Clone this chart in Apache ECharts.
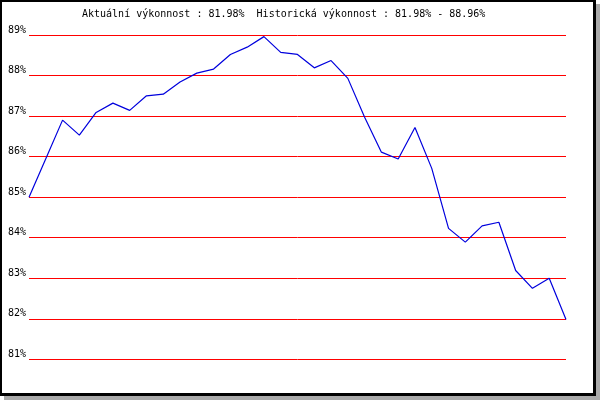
<!DOCTYPE html>
<html>
<head>
<meta charset="utf-8">
<script src="https://cdn.jsdelivr.net/npm/echarts@6/dist/echarts.min.js"></script>
<style>
  html, body { margin: 0; padding: 0; background: #ffffff; }
  #frame {
    position: absolute; left: 0; top: 0;
    width: 596px; height: 396px; box-sizing: border-box;
    border-left: 2px solid #000; border-top: 2px solid #000;
    border-right: 3px solid #000; border-bottom: 3px solid #000;
    background: #ffffff;
    box-shadow: 4px 4px 0 #a9a9a9;
  }
  #chart { position: absolute; left: 0; top: 0; width: 600px; height: 400px; }
</style>
</head>
<body>
<div id="frame"></div>
<div id="chart"></div>
<script>
const titleText = 'Aktuální výkonnost : 81.98%  Historická výkonnost : 81.98% - 88.96%';
const categories = ['1','2','3','4','5','6','7','8','9','10','11','12','13','14','15','16','17',
  '18','19','20','21','22','23','24','25','26','27','28','29','30','31','32','33'];
const performance = [85.00, 85.95, 86.90, 86.53, 87.09, 87.32, 87.14, 87.50, 87.54, 87.84,
  88.06, 88.16, 88.52, 88.70, 88.96, 88.57, 88.52, 88.19, 88.37, 87.93, 86.97, 86.11,
  85.94, 86.72, 85.71, 84.23, 83.89, 84.29, 84.38, 83.19, 82.75, 83.00, 81.98];
const yMin = 81, yMax = 89, yStep = 1;

const chart = echarts.init(document.getElementById('chart'), null, { renderer: 'canvas' });
chart.setOption({
  animation: false,
  title: {
    text: titleText,
    left: 82, top: 9, padding: 0,
    textStyle: { fontFamily: 'DejaVu Sans Mono', fontSize: 10, fontWeight: 'normal', color: '#000' }
  },
  grid: { left: 29, right: 34, top: 35, height: 324.3, containLabel: false },
  xAxis: {
    type: 'category', data: categories, boundaryGap: false,
    axisLine: { show: false }, axisTick: { show: false }, axisLabel: { show: false },
    splitLine: { show: false }
  },
  yAxis: {
    type: 'value', min: yMin, max: yMax, interval: yStep,
    axisLine: { show: false }, axisTick: { show: false },
    axisLabel: {
      formatter: v => v + '%', margin: 3, verticalAlign: 'bottom',
      fontFamily: 'DejaVu Sans Mono', fontSize: 10, color: '#000'
    },
    splitLine: { show: true, lineStyle: { color: '#ff0000', width: 1 } }
  },
  series: [{
    type: 'line', data: performance, showSymbol: false, symbol: 'none',
    lineStyle: { color: '#0000dd', width: 1.2 }
  }]
});
</script>
</body>
</html>
